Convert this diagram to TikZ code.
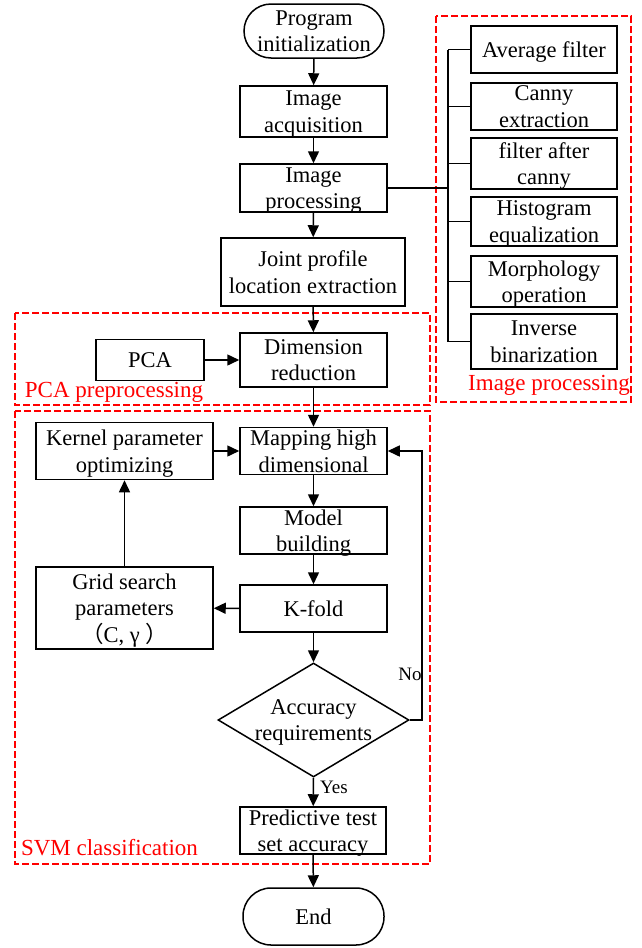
\documentclass[tikz,border=0pt]{standalone}
\usepackage{fontspec}
\setmainfont{Liberation Serif}
\newfontfamily\cjk{Noto Sans CJK SC}
\usetikzlibrary{arrows.meta,shapes.geometric}
\begin{document}
\begin{tikzpicture}[x=1pt,y=-1pt,
 box/.style={draw, line width=1.5pt, align=center, inner sep=0pt, text depth=0pt, font=\fontsize{22.5}{26.5}\selectfont},
 stad/.style={box, rounded corners=27pt},
 arr/.style={line width=1.5pt, -{Triangle[length=12pt,width=11pt]}},
 ln/.style={line width=1.5pt},
 grp/.style={draw=red, line width=2.5pt, dash pattern=on 7pt off 3pt},
 grplab/.style={text=red, font=\fontsize{23}{26}\selectfont, inner sep=0pt},
 small/.style={font=\fontsize{19}{22}\selectfont, inner sep=0pt}]
\useasboundingbox (0,0) rectangle (641,948);

% group frames
\draw[grp] (436,16) rectangle (631,402);
\draw[grp] (15,313) rectangle (430,405);
\draw[grp] (15,411) rectangle (430,864);
\node[grplab] (lip) at (549,385) {Image processing};
\node[grplab] (lpca) at (114,392) {PCA preprocessing};
\node[grplab] (lsvm) at (109.5,848) {SVM classification};

% main column
\node[stad, minimum width=140pt, minimum height=54pt] (init) at (314,31) {Program\\initialization};
\node[box, minimum width=147pt, minimum height=51pt] (acq) at (313.5,111.5) {Image\\acquisition};
\node[box, minimum width=147pt, minimum height=48pt] (proc) at (313.5,188) {Image\\processing};
\node[box, minimum width=184pt, minimum height=68pt] (joint) at (313,272) {Joint profile\\location extraction};
\node[box, minimum width=147pt, minimum height=54pt] (dim) at (313.5,360) {Dimension\\reduction};
\node[box, minimum width=108pt, minimum height=41pt] (pca) at (150,360) {PCA};
\node[box, minimum width=177pt, minimum height=57pt] (kern) at (124.5,451) {Kernel parameter\\optimizing};
\node[box, minimum width=147pt, minimum height=47pt] (map) at (313.5,451) {Mapping high\\dimensional};
\node[box, minimum width=147pt, minimum height=47pt] (model) at (313.5,530.5) {Model\\building};
\node[box, minimum width=147pt, minimum height=47pt] (kfold) at (313.5,608.5) {K-fold};
\node[box, minimum width=177pt, minimum height=82pt] (grid) at (124.5,608) {Grid search\\parameters\\{\cjk （}C, γ {\cjk ）}};
\node[diamond, draw, line width=1.5pt, minimum width=191pt, minimum height=114pt, inner sep=0pt, shape aspect=1.675] (acc) at (313.5,720) {};
\node[align=center, inner sep=0pt, text depth=0pt, font=\fontsize{22.5}{26.5}\selectfont] (acct) at (acc.center) {Accuracy\\requirements};
\node[box, minimum width=146pt, minimum height=47pt] (pred) at (313,830.5) {Predictive test\\set accuracy};
\node[stad, minimum width=141pt, minimum height=57pt, rounded corners=28pt] (endn) at (313.5,916.5) {End};

% image processing sub-steps
\node[box, minimum width=146pt, minimum height=47pt] (avg) at (544,49.5) {Average filter};
\node[box, minimum width=146pt, minimum height=47pt] (canny) at (544,106.5) {Canny\\extraction};
\node[box, minimum width=146pt, minimum height=51pt] (fac) at (544,163.5) {filter after\\canny};
\node[box, minimum width=146pt, minimum height=49pt] (hist) at (544,221.5) {Histogram\\equalization};
\node[box, minimum width=146pt, minimum height=51pt] (morph) at (544,281.5) {Morphology\\operation};
\node[box, minimum width=146pt, minimum height=55pt] (inv) at (544,341.5) {Inverse\\binarization};

\coordinate (bus) at (448,188);
\draw[ln] (proc.east) -- (bus);
\draw[ln] (avg.west -| bus) -- (inv.west -| bus);
\foreach \n in {avg,canny,fac,hist,morph,inv}
  \draw[ln] (\n.west -| bus) -- (\n.west);

% arrows
\draw[arr] (init) -- (acq);
\draw[arr] (acq) -- (proc);
\draw[arr] (proc) -- (joint);
\draw[arr] (joint) -- (dim);
\draw[arr] (pca) -- (dim);
\draw[arr] (dim) -- (map);
\draw[arr] (kern) -- (map);
\draw[arr] (map) -- (model);
\draw[arr] (model) -- (kfold);
\draw[arr] (kfold) -- (grid);
\draw[arr] (grid) -- (kern);
\draw[arr] (kfold) -- (acc.north);
\draw[arr] (acc.south) -- (pred);
\draw[arr] (pred) -- (endn);
\coordinate (fb) at (422,720);
\draw[arr] (acc.east) -- (fb) |- (map.east);
\node[small] (yes) at (334,787) {Yes};
\node[small] (no) at (410,674) {No};
\end{tikzpicture}
\end{document}
